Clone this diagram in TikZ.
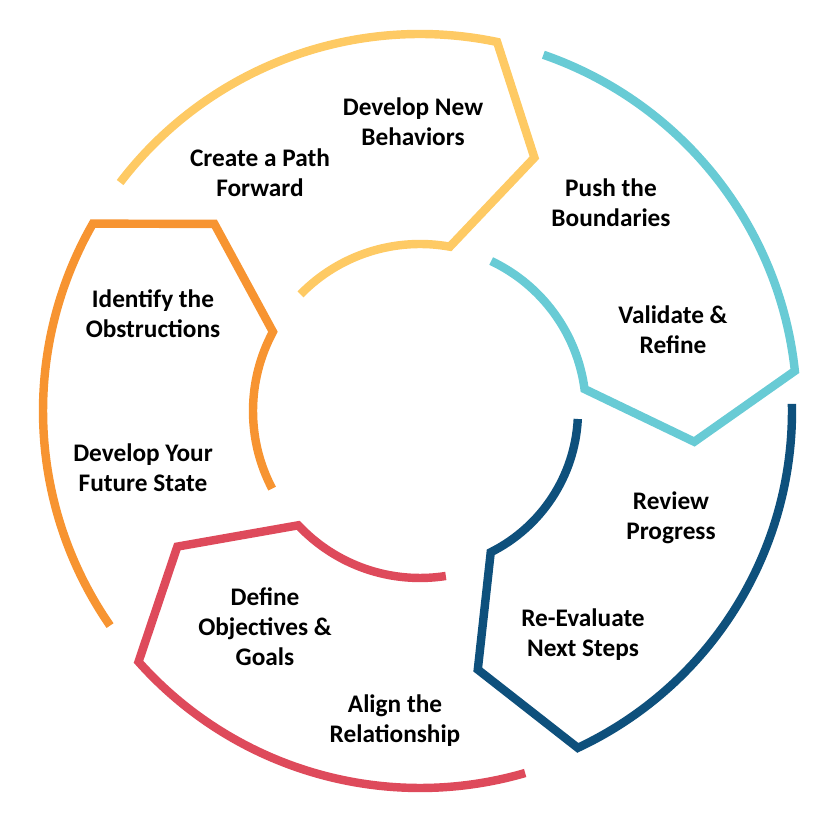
\documentclass[tikz,border=0pt]{standalone}
\usepackage{fontspec}
\setmainfont{Carlito}
\usetikzlibrary{positioning}
\definecolor{cOrange}{RGB}{247,148,49}
\definecolor{cYellow}{RGB}{254,202,100}
\definecolor{cCyan}{RGB}{104,203,213}
\definecolor{cNavy}{RGB}{14,80,124}
\definecolor{cRed}{RGB}{222,74,91}
\tikzset{
  %% ring segments
  ring/.style={line width=4.8pt, line join=miter, miter limit=10},
  %% step texts
  steptext/.style={font=\bfseries\fontsize{14.4}{17}\selectfont, align=center,
                   text=black, inner sep=1pt},
}

\begin{document}
\begin{tikzpicture}[x=0.02cm, y=0.02cm]

%% ============================================================
%%  FRAME (centre of the ring at the origin)
%% ============================================================
\useasboundingbox (-420,-409) rectangle (402,411);

%% ============================================================
%%  RING SEGMENTS
%%  colour / leading angle / open end angles / outer, tip, inner radius
%% ============================================================
\foreach \cc/\ph/\ao/\ai/\ro/\rm/\ri in {
    cOrange/150.2/64.5/57.5/377/278/167,
    cYellow/78.2/64.5/57.5/377/278/167,
    cCyan/6.1/64.8/58.5/377/276/166,
    cNavy/-64.9/66/62/372/265/158,
    cRed/-138.3/64.5/57.2/377/278/167} {
  \draw[ring, draw=\cc]
    ({\ph+\ao}:\ro) arc[start angle=\ph+\ao, end angle=\ph, radius=\ro]
    -- ({\ph-12.5}:\rm) -- ({\ph+1.5}:\ri)
    arc[start angle=\ph+1.5, end angle=\ph+\ai, radius=\ri];
}

%% ============================================================
%%  STEP TEXTS
%% ============================================================
\node[steptext] (tBehave)  at (-7, 289)    {Develop New\\Behaviors};
\node[steptext] (tPath)    at (-160, 238)  {Create a Path\\Forward};
\node[steptext] (tPush)    at (191, 208)   {Push the\\Boundaries};
\node[steptext] (tRefine)  at (253, 81)    {Validate \&\\Refine};
\node[steptext] (tReview)  at (251, -107)  {Review\\Progress};
\node[steptext] (tReEval)  at (163, -224)  {Re-Evaluate\\Next Steps};
\node[steptext] (tGoals)   at (-155, -216) {Define\\Objectives \&\\Goals};
\node[steptext] (tAlign)   at (-25, -310)  {Align the\\Relationship};
\node[steptext] (tObstr)   at (-267, 97)   {Identify the\\Obstructions};
\node[steptext] (tFuture)  at (-277, -57)  {Develop Your\\Future State};

\end{tikzpicture}
\end{document}
